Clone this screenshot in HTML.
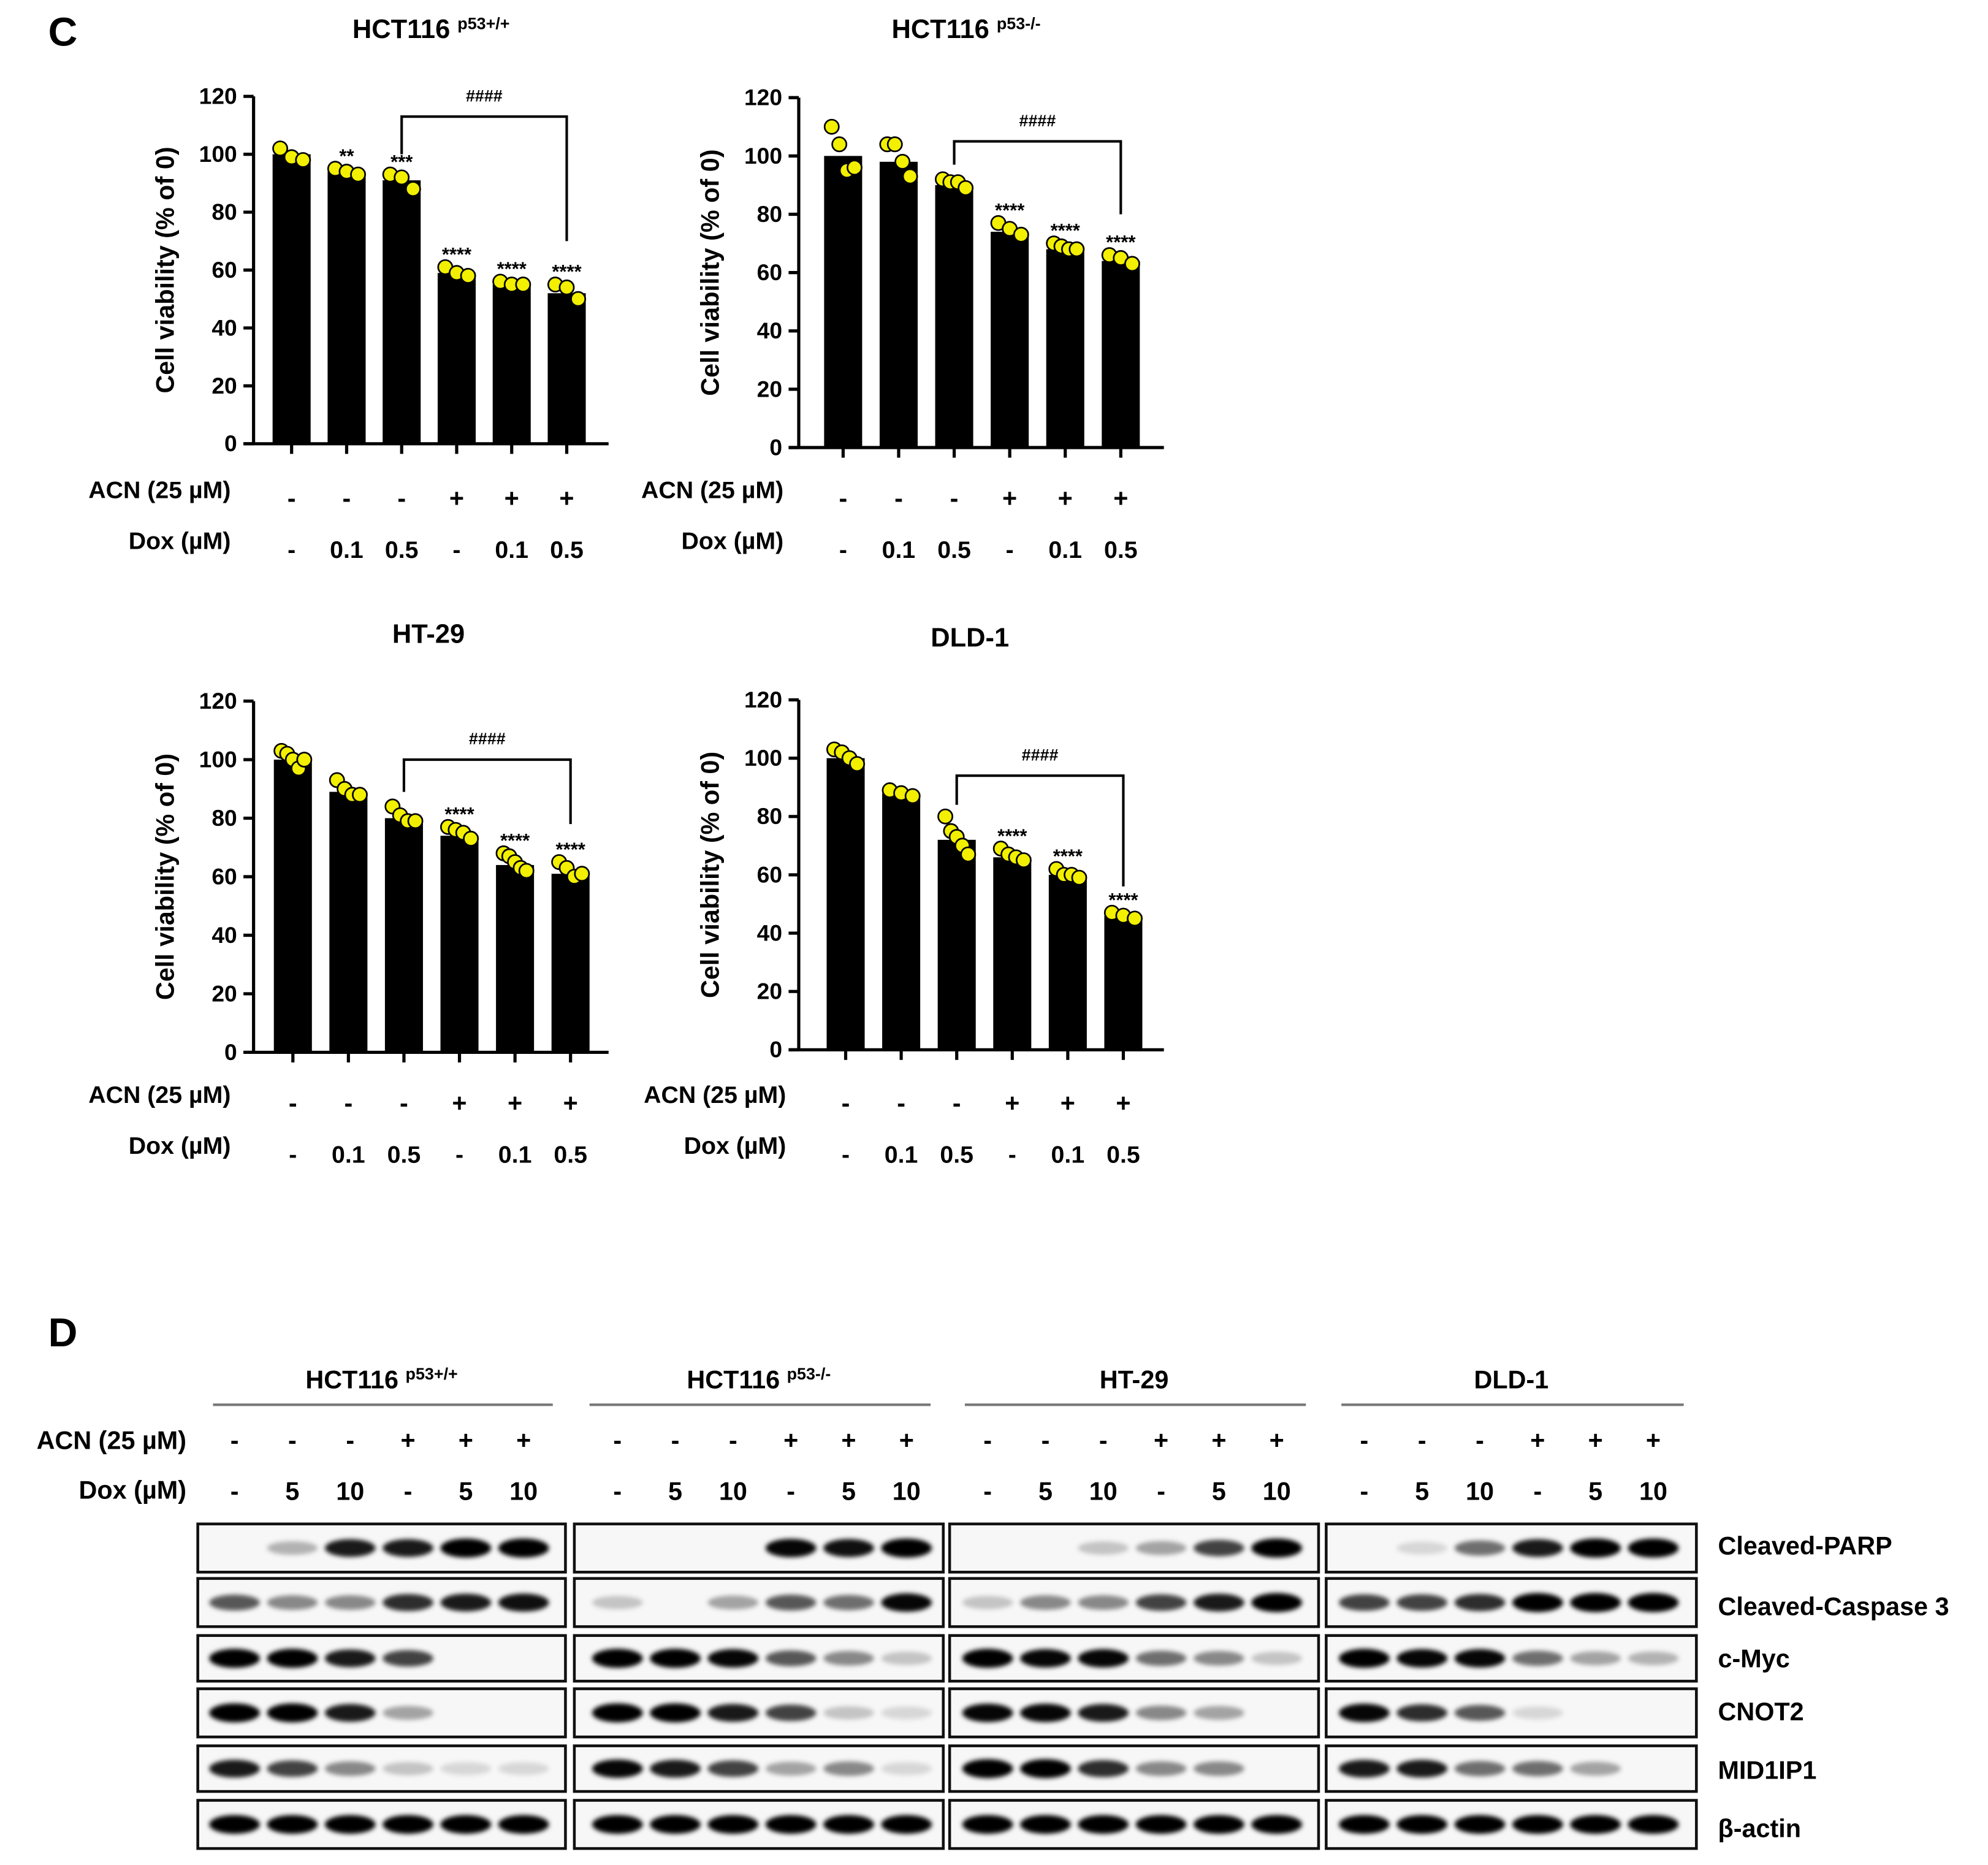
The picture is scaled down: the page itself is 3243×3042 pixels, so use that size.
<!DOCTYPE html>
<html><head><meta charset="utf-8"><style>
html,body{margin:0;padding:0;background:#fff;}
svg{display:block;}
text{font-family:"Liberation Sans",sans-serif;font-weight:bold;fill:#000;}
</style></head><body>
<svg id="fig" xmlns="http://www.w3.org/2000/svg" width="3243" height="3042" viewBox="0 0 1568 1471" preserveAspectRatio="none">
<defs>
<filter id="blur" x="-50%" y="-100%" width="200%" height="300%"><feGaussianBlur stdDeviation="1.8"/></filter>
</defs>
<text x="38" y="36" font-size="32">C</text>
<text x="38" y="1062" font-size="32">D</text>
<g id="charts"></g>
<g id="blots"></g>
</svg>
<script>
const NS = "http://www.w3.org/2000/svg";
// ---- Chart data ----
const categories = ["1","2","3","4","5","6"];
const acnLabels = ["-","-","-","+","+","+"];
const doxLabels = ["-","0.1","0.5","-","0.1","0.5"];
const yTicks = [0,20,40,60,80,100,120];
const chartTitles = ["HCT116 ","HCT116 ","HT-29","DLD-1"];
const chartSups = ["p53+/+","p53-/-","",""];
const means1 = [100,94,91,59,55,52];
const means2 = [100,98,90,74,68,64];
const means3 = [100,89,80,74,64,61];
const means4 = [100,88,72,66,60,46];
const points1 = [[102,99,98],[95,94,93],[93,92,88],[61,59,58],[56,55,55],[55,54,50]];
const points2 = [[110,104,95,96],[104,104,98,93],[92,91,91,89],[77,75,73],[70,69,68,68],[66,65,63]];
const points3 = [[103,102,100,97,100],[93,90,88,88],[84,81,79,79],[77,76,75,73],[68,67,65,63,62],[65,63,60,61]];
const points4 = [[103,102,100,98],[89,88,87],[80,75,73,70,67],[69,67,66,65],[62,60,60,59],[47,46,45]];
const stars1 = ["","**","***","****","****","****"];
const stars2 = ["","","","****","****","****"];
const stars3 = ["","","","****","****","****"];
const stars4 = ["","","","****","****","****"];
const bracket1 = [113,100,70];
const bracket2 = [105,97,80];
const bracket3 = [100,89,78];
const bracket4 = [94,84,56];

const layouts = [
 {ax:200,top:76,bot:350,x0:230,dx:43.4,right:480,rowA:393,rowD:433,lblR:182,tx:340,ty:30},
 {ax:630,top:77,bot:353,x0:665,dx:43.8,right:918,rowA:393,rowD:433,lblR:618,tx:762,ty:30},
 {ax:200,top:553,bot:830,x0:231,dx:43.8,right:480,rowA:870,rowD:910,lblR:182,tx:338,ty:507},
 {ax:630,top:552,bot:828,x0:667,dx:43.8,right:918,rowA:870,rowD:910,lblR:620,tx:765,ty:510}
];
const allMeans=[means1,means2,means3,means4], allPoints=[points1,points2,points3,points4];
const allStars=[stars1,stars2,stars3,stars4], allBr=[bracket1,bracket2,bracket3,bracket4];

function mk(tag, attrs, parent, txt){const e=document.createElementNS(NS,tag);for(const k in attrs)e.setAttribute(k,attrs[k]);if(txt!==undefined)e.textContent=txt;parent.appendChild(e);return e;}
const charts=document.getElementById('charts');
layouts.forEach((L,ci)=>{
 const g=mk('g',{},charts);
 
 
 const y=v=>L.bot-(v/120)*(L.bot-L.top);
 const x=i=>L.x0+i*L.dx;
 const t=mk('text',{x:L.tx,y:L.ty,'font-size':21,'text-anchor':'middle'},g,chartTitles[ci]);
 
 
 if(chartSups[ci]){mk('tspan',{'font-size':13,dy:-7},t,chartSups[ci]);}
 allMeans[ci].forEach((m,i)=>{
  const r=mk('rect',{x:x(i)-15,y:y(m),width:30,height:L.bot-y(m),fill:'#000'},g);
  
  
 });
 allPoints[ci].forEach((pts,i)=>{
  const n=pts.length;
  pts.forEach((p,j)=>{
   const c=mk('circle',{cx:x(i)-9+(n>1?18*j/(n-1):0),cy:y(p),r:5.6,fill:'#f2ef00',stroke:'#000','stroke-width':1.3},g);
   
   
  });
  const s=allStars[ci][i];
  if(s){const st=mk('text',{x:x(i),y:y(Math.max(...pts))-5,'font-size':15,'text-anchor':'middle','font-weight':'normal'},g,s);
   
   }
 });
 const ya=mk('line',{x1:L.ax,y1:L.top,x2:L.ax,y2:L.bot,stroke:'#000','stroke-width':2.5},g);
 
 
 const xa=mk('line',{x1:L.ax-8,y1:L.bot,x2:L.right,y2:L.bot,stroke:'#000','stroke-width':2.5},g);
 
 
 yTicks.forEach(v=>{
  mk('line',{x1:L.ax-8,y1:y(v),x2:L.ax,y2:y(v),stroke:'#000','stroke-width':2.5},g);
  const tl=mk('text',{x:L.ax-13,y:y(v)+6,'font-size':18,'text-anchor':'end','font-weight':'normal'},g,v);
  
  
 });
 categories.forEach((c,i)=>{mk('line',{x1:x(i),y1:L.bot,x2:x(i),y2:L.bot+8,stroke:'#000','stroke-width':2.5},g);});
 const yt=mk('text',{x:0,y:0,'font-size':20,'text-anchor':'middle',transform:`translate(${L.ax-63},${(L.top+L.bot)/2}) rotate(-90)`},g,'Cell viability (% of 0)');
 
 
 const a=mk('text',{x:L.lblR,y:L.rowA,'font-size':19,'text-anchor':'end'},g,'ACN (25 µM)');
 
 
 const d=mk('text',{x:L.lblR,y:L.rowD,'font-size':19,'text-anchor':'end'},g,'Dox (µM)');
 
 
 categories.forEach((c,i)=>{
  mk('text',{x:x(i),y:L.rowA+7,'font-size':20,'text-anchor':'middle'},g,acnLabels[i]);
  mk('text',{x:x(i),y:L.rowD+7,'font-size':19,'text-anchor':'middle','font-weight':'normal'},g,doxLabels[i]);
 });
 const b=allBr[ci];
 const br=mk('polyline',{points:`${x(2)},${y(b[1])} ${x(2)},${y(b[0])} ${x(5)},${y(b[0])} ${x(5)},${y(b[2])}`,fill:'none',stroke:'#000','stroke-width':2},g);
 
 
 const h=mk('text',{x:(x(2)+x(5))/2,y:y(b[0])-12,'font-size':13,'text-anchor':'middle','font-weight':'normal',fill:'#444'},g,'####');
 
 
});

// ---- Western blots ----
const groupNames=["HCT116 ","HCT116 ","HT-29","DLD-1"];
const groupSups=["p53+/+","p53-/-","",""];
const blotAcn=["-","-","-","+","+","+"];
const blotDox=["-","5","10","-","5","10"];
const proteins=["Cleaved-PARP","Cleaved-Caspase 3","c-Myc","CNOT2","MID1IP1","β-actin"];
const parp=[[0,.15,.8,.8,1,1],[0,0,0,.9,.85,1],[0,0,.1,.2,.6,1],[0,.05,.4,.8,1,1]];
const casp=[[.5,.3,.3,.7,.8,.85],[.1,0,.2,.5,.4,.9],[.1,.3,.3,.6,.8,1],[.6,.6,.7,1,1,1]];
const myc=[[1,1,.8,.6,0,0],[1,1,.9,.5,.3,.1],[1,.9,.9,.4,.3,.1],[1,.9,.9,.4,.2,.15]];
const cnot2=[[1,1,.8,.2,0,0],[1,1,.8,.6,.1,.05],[.9,.9,.8,.3,.2,0],[.9,.7,.5,.05,0,0]];
const mid1ip1=[[.8,.6,.3,.1,.05,.05],[.9,.8,.6,.2,.3,.05],[1,1,.7,.3,.3,0],[.8,.8,.4,.4,.2,0]];
const actin=[[.95,.95,.95,.95,.95,.95],[.95,.95,.95,.95,.95,.95],[.95,.95,.95,.95,.95,.95],[.95,.95,.95,.95,.95,.95]];
const intensities=[parp,casp,myc,cnot2,mid1ip1,actin];

const gX=[156,453,749,1046], gW=[290,291,291,292];
const lane0=[185,487,779,1076];
const rowY=[[1202,1240],[1245,1283],[1290,1326],[1332,1370],[1377,1413],[1420,1458]];
const labelY=[1226,1274,1315,1357,1403,1449];
const blots=document.getElementById('blots');
gX.forEach((gx,gi)=>{
 const g=mk('g',{},blots);
 
 
 const cx=gx+gW[gi]/2;
 const t=mk('text',{x:cx,y:1095,'font-size':20,'text-anchor':'middle'},g,groupNames[gi]);
 
 
 if(groupSups[gi]) mk('tspan',{'font-size':13,dy:-7},t,groupSups[gi]);
 mk('line',{x1:gx+12,y1:1108,x2:gx+gW[gi]-10,y2:1108,stroke:'#777','stroke-width':2},g);
 for(let i=0;i<6;i++){
  const lx=lane0[gi]+i*45.6;
  mk('text',{x:lx,y:1143,'font-size':20,'text-anchor':'middle'},g,blotAcn[i]);
  mk('text',{x:lx,y:1183,'font-size':20,'text-anchor':'middle','font-weight':'normal'},g,blotDox[i]);
 }
 rowY.forEach((ry,ri)=>{
  const box=mk('rect',{x:gx,y:ry[0],width:gW[gi],height:ry[1]-ry[0],fill:'#f7f7f7',stroke:'#111','stroke-width':2.2},g);
  
  
  const my=(ry[0]+ry[1])/2;
  intensities[ri][gi].forEach((v,i)=>{
   if(v<=0) return;
   const lx=lane0[gi]+i*45.6;
   const band=mk('ellipse',{cx:lx,cy:my,rx:20,ry:5+2.5*v,fill:'#000','fill-opacity':Math.min(1,Math.pow(v,0.7)*1.05),filter:'url(#blur)'},g);
   
   
  });
 });
});
proteins.forEach((p,i)=>{
 const t=mk('text',{x:1355,y:labelY[i],'font-size':20},blots,p);
 
 
});
const la=mk('text',{x:147,y:1143,'font-size':20,'text-anchor':'end'},blots,'ACN (25 µM)');


const ld=mk('text',{x:147,y:1182,'font-size':20,'text-anchor':'end'},blots,'Dox (µM)');


</script>
</body></html>
